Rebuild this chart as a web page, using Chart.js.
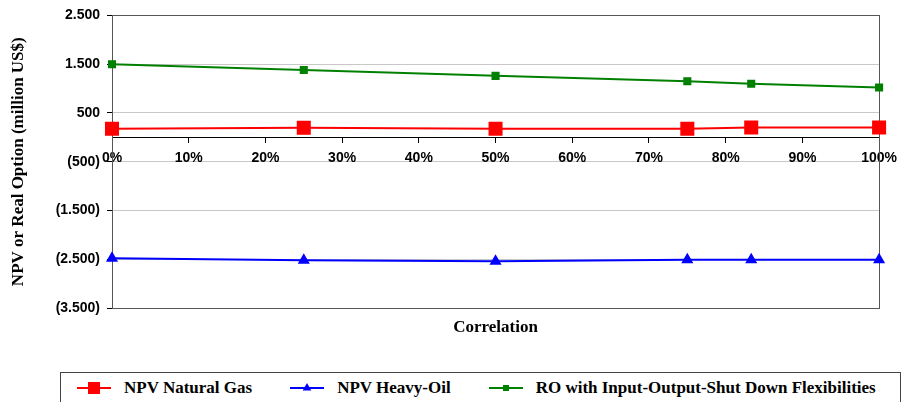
<!DOCTYPE html>
<html>
<head>
<meta charset="utf-8">
<script src="https://cdn.jsdelivr.net/npm/chart.js@4/dist/chart.umd.min.js"></script>
<style>
  body { margin: 0; background: #fff; width: 904px; height: 402px; overflow: hidden; }
  #wrap { position: relative; width: 904px; height: 402px; }
  #legend {
    position: absolute; left: 60px; top: 372px; width: 841px; height: 40px;
    border: 1px solid #444; box-sizing: border-box; background: #fff;
    display: flex; align-items: flex-start; padding: 5px 0 0 16px; overflow: hidden;
    font: bold 17px "Liberation Serif", "Times New Roman", serif; color: #000;
  }
  .item { display: flex; align-items: center; margin-right: 38px; flex-shrink: 0; white-space: nowrap; }
  .item canvas { margin-right: 13px; flex-shrink: 0; }
</style>
</head>
<body>
<div id="wrap">
  <canvas id="meuGrafico" width="904" height="402"></canvas>
  <div id="legend"></div>
</div>
<script>
const correlation = [0, 0.25, 0.5, 0.75, 0.8333, 1];
const npvGas = [175, 195, 175, 175, 200, 200];
const npvHeavyOil = [-2480, -2520, -2540, -2510, -2510, -2510];
const roFlex = [1500, 1380, 1260, 1150, 1100, 1020];
const seriesNames = ["NPV Natural Gas", "NPV Heavy-Oil", "RO with Input-Output-Shut Down Flexibilities"];
const xTicks = [0, 0.1, 0.2, 0.3, 0.4, 0.5, 0.6, 0.7, 0.8, 0.9, 1];
const yTicks = [-3500, -2500, -1500, -500, 500, 1500, 2500];

const pts = (arr) => correlation.map((c, i) => ({x: c, y: arr[i]}));
const fmt = (v) => {
    const s = String(Math.abs(v)).replace(/\B(?=(\d{3})+(?!\d))/g, ".");
    return v < 0 ? `(${s})` : s;
};

const plotBorder = {
    id: "plotBorder",
    beforeDatasetsDraw(chart) {
        const {ctx, chartArea: a} = chart;
        ctx.save();
        ctx.strokeStyle = "#555";
        ctx.lineWidth = 1;
        ctx.strokeRect(Math.round(a.left) + 0.5, Math.round(a.top) + 0.5, Math.round(a.right - a.left), Math.round(a.bottom - a.top));
        ctx.restore();
    },
};

function generateChart() {
    const info = {
        datasets: [
            {
                label: seriesNames[0],
                data: pts(npvGas),
                borderColor: "#ff0000",
                backgroundColor: "#ff0000",
                borderWidth: 2,
                pointStyle: "rect",
                pointRadius: 8.5,
                clip: false,
            },
            {
                label: seriesNames[1],
                data: pts(npvHeavyOil),
                borderColor: "#0000ff",
                backgroundColor: "#0000ff",
                borderWidth: 2,
                pointStyle: "triangle",
                pointRadius: 5,
                clip: false,
            },
            {
                label: seriesNames[2],
                data: pts(roFlex),
                borderColor: "#008000",
                backgroundColor: "#008000",
                borderWidth: 2,
                pointStyle: "rect",
                pointRadius: 4.3,
                clip: false,
            },
        ],
    };
    const options = {
        responsive: false,
        animation: false,
        layout: {padding: {left: 0, right: 21, top: 15, bottom: 54}},
        scales: {
            x: {
                type: "linear",
                min: 0,
                max: 1,
                position: {y: 0},
                afterBuildTicks: (s) => { s.ticks = xTicks.map((v) => ({value: v})); },
                ticks: {
                    callback: (v) => `${Math.round(v * 100)}%`,
                    color: "#000",
                    font: {family: "Liberation Sans", size: 14, weight: "bold"},
                    padding: 7,
                    maxRotation: 0,
                    autoSkip: false,
                },
                grid: {drawOnChartArea: false, drawTicks: true, tickLength: 5, color: "#000"},
                border: {color: "#000", width: 1},
            },
            xTitle: {
                type: "linear",
                position: "bottom",
                display: true,
                afterFit: (s) => { s.height = 40; },
                ticks: {display: false},
                grid: {display: false},
                border: {display: false},
                title: {
                    display: true,
                    text: "Correlation",
                    color: "#000",
                    font: {family: "Liberation Serif", size: 17, weight: "bold"},
                    padding: {top: 0, bottom: 10},
                },
            },
            y: {
                min: -3500,
                max: 2500,
                afterFit: (s) => { s.width = 112; },
                afterBuildTicks: (s) => { s.ticks = yTicks.map((v) => ({value: v})); },
                ticks: {
                    callback: (v) => fmt(v),
                    color: "#000",
                    font: {family: "Liberation Sans", size: 14, weight: "bold"},
                    padding: 7,
                },
                grid: {color: "#c8c8c8", tickColor: "#000", tickLength: 5},
                border: {color: "#000", width: 1},
                title: {
                    display: true,
                    text: "NPV or Real Option (million US$)",
                    color: "#000",
                    font: {family: "Liberation Serif", size: 17, weight: "bold"},
                    padding: {top: 8, bottom: 0},
                },
            },
        },
        plugins: {
            legend: {display: false},
            tooltip: {enabled: false},
        },
    };
    const config = {
        type: "line",
        data: info,
        options,
        plugins: [plotBorder],
    };
    const meuGrafico = new Chart(document.getElementById("meuGrafico"), config);

    const legend = document.getElementById("legend");
    meuGrafico.data.datasets.forEach((ds) => {
        const item = document.createElement("div");
        item.className = "item";
        const c = document.createElement("canvas");
        c.width = 34;
        c.height = 18;
        const g = c.getContext("2d");
        g.strokeStyle = ds.borderColor;
        g.fillStyle = ds.backgroundColor;
        g.lineWidth = 2;
        g.beginPath();
        g.moveTo(0, 9);
        g.lineTo(34, 9);
        g.stroke();
        const r = ds.pointRadius;
        g.beginPath();
        if (ds.pointStyle === "triangle") {
            g.moveTo(17, 9 - r);
            g.lineTo(17 + r * 0.866, 9 + r / 2);
            g.lineTo(17 - r * 0.866, 9 + r / 2);
            g.closePath();
        } else {
            const h = r * Math.SQRT1_2;
            g.rect(17 - h, 9 - h, 2 * h, 2 * h);
        }
        g.fill();
        const t = document.createElement("span");
        t.textContent = ds.label;
        item.appendChild(c);
        item.appendChild(t);
        legend.appendChild(item);
    });
}
generateChart();
</script>
</body>
</html>
